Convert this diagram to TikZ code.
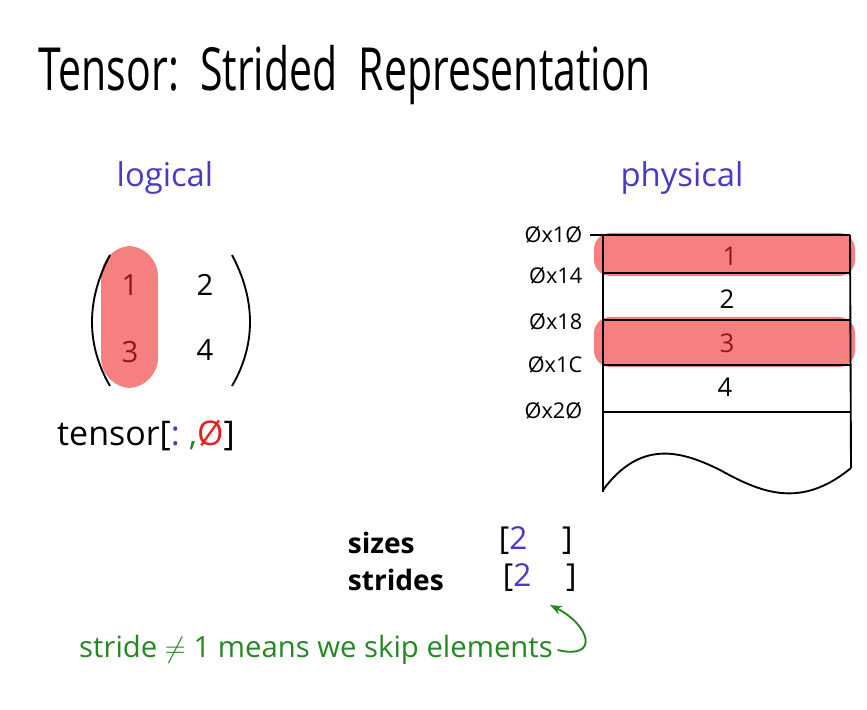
\documentclass[tikz,border=0pt]{standalone}
\usepackage{fontspec}
\usepackage{graphicx}
\setmainfont{Open Sans}
\usetikzlibrary{arrows.meta}
\definecolor{hl}{RGB}{246,128,128}
\definecolor{dred}{RGB}{150,20,25}
\definecolor{blu}{RGB}{72,58,200}
\definecolor{grn}{RGB}{35,135,35}
\definecolor{zred}{RGB}{230,30,30}

\begin{document}
\begin{tikzpicture}[x=0.03cm,y=-0.03cm,>=Stealth,line width=1.6pt,
  num/.style={font=\fontsize{25}{25}\selectfont},
  cell/.style={font=\fontsize{22}{22}\selectfont},
  addr/.style={font=\fontsize{18.5}{18.5}\selectfont,anchor=east},
  head/.style={font=\fontsize{28}{28}\selectfont,text=blu},
  lbl/.style={font=\fontsize{24}{24}\selectfont\bfseries,anchor=west}]
\useasboundingbox (0,0) rectangle (867,710);
\node (title) at (345,75) {\fontsize{35}{35}\selectfont\scalebox{1}[1.45]{Tensor:\ \ Strided\ \ Representation}};
\node[head] (logical) at (165,178) {logical}; \node[head] (physical) at (682,178) {physical};

\fill[hl,rounded corners=26] (101,246) rectangle (158,388);
\draw (110,255) .. controls (86,300) and (86,345) .. (110,386);
\draw (232,255) .. controls (256,300) and (256,345) .. (232,386);
\node[num,text=dred] (m11) at (130,285) {1}; \node[num] (m12) at (205,285) {2};
\node[num,text=dred] (m21) at (130,352) {3}; \node[num] (m22) at (205,350) {4};
\node[font=\fontsize{29}{29}\selectfont] (slice) at (146,436) {tensor[{\color{blu}:}\ {\color{grn},}{\color{zred}\O}]};

\fill[hl,rounded corners=14] (594,233) rectangle (855,276);
\fill[hl,rounded corners=14] (594,317) rectangle (855,367);
\draw (590,235) -- (850,235); \draw (603,273) -- (850,273); \draw (603,320) -- (850,320);
\draw (603,365) -- (850,365); \draw (603,412) -- (850,412);
\draw (603,235) -- (603,492); \draw (850,235) -- (851,468);
\draw (603,490) .. controls (640,440) and (680,450) .. (720,470) .. controls (760,492) and (800,510) .. (851,468);
\node[addr] (a10) at (587,235) {\O x1\O}; \node[addr] (a14) at (587,276) {\O x14};
\node[addr] (a18) at (587,322) {\O x18}; \node[addr] (a1c) at (587,365) {\O x1C};
\node[addr] (a20) at (587,411) {\O x2\O};
\node[cell,text=dred] (c1) at (730,256) {1}; \node[cell] (c2) at (727,299) {2};
\node[cell,text=dred] (c3) at (727,343) {3}; \node[cell] (c4) at (725,387) {4};

\node[lbl] (sizes) at (343,543) {sizes}; \node[lbl] (strides) at (343,580) {strides};
\node[lbl,font=\fontsize{27}{27}\selectfont] (szv) at (494,541) {[{\color{blu}2}\hspace{1.1em}]};
\node[lbl,font=\fontsize{27}{27}\selectfont] (stv) at (498,578) {[{\color{blu}2}\hspace{1.1em}]};
\coordinate (gap) at (550,605);

\node[text=grn,font=\fontsize{25}{25}\selectfont] (note) at (316,650) {stride $\neq$ 1 means we skip elements};
\draw[->,grn] (note.east) .. controls (600,660) and (590,625) .. (gap);
\end{tikzpicture}
\end{document}
